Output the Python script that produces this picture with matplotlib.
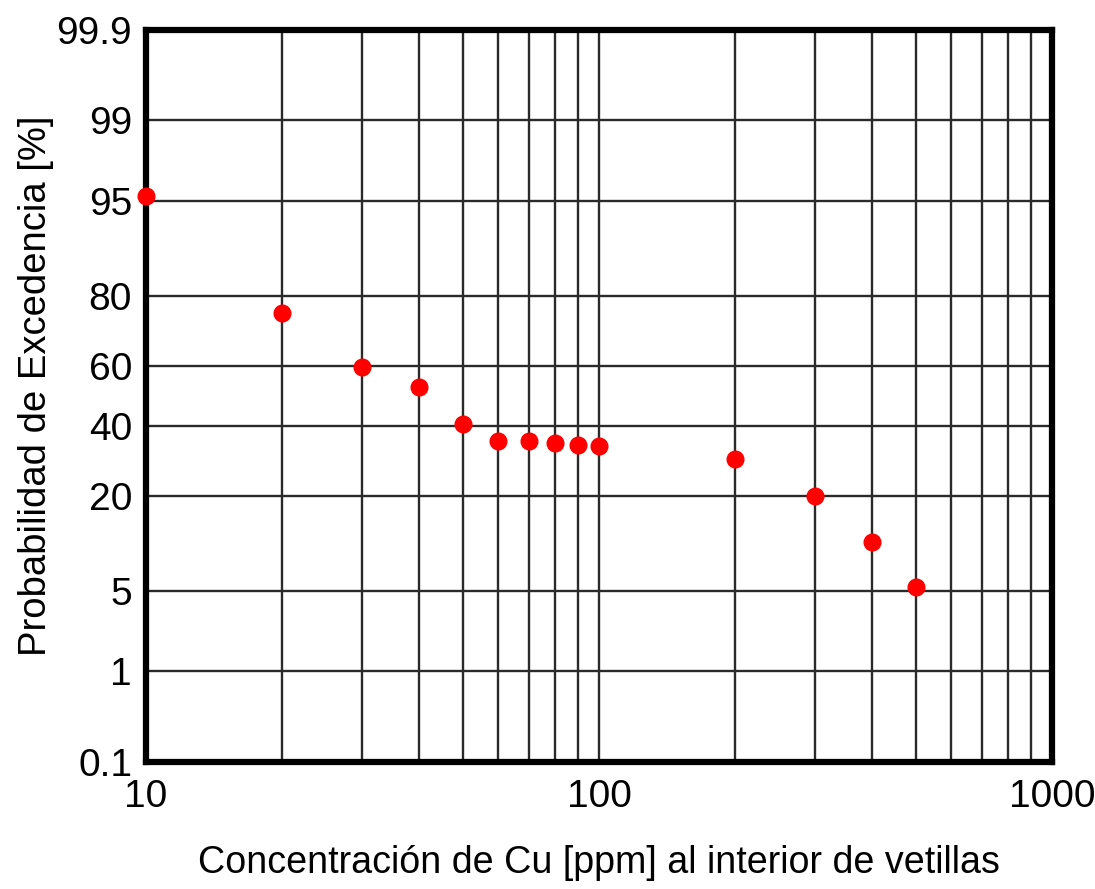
import numpy as np
import matplotlib
matplotlib.use("Agg")
import matplotlib.pyplot as plt
from matplotlib.ticker import FixedLocator, NullFormatter, FuncFormatter
from statistics import NormalDist

# Cu concentration [ppm] and exceedance probability [%]
cu_ppm = [10, 20, 30, 40, 50, 60, 70, 80, 90, 100, 200, 300, 400, 500]
prob_exc = [95.4, 75.8, 59.6, 52.9, 40.8, 35.1, 35.1, 34.5, 33.9, 33.6, 29.6, 20.0, 10.8, 5.3]

y_ticks = [0.1, 1, 5, 20, 40, 60, 80, 95, 99, 99.9]
y_tick_labels = ["0.1", "1", "5", "20", "40", "60", "80", "95", "99", "99.9"]
x_major = [10, 100, 1000]
x_minor = [20, 30, 40, 50, 60, 70, 80, 90, 200, 300, 400, 500, 600, 700, 800, 900]

nd = NormalDist()


def prob_to_z(p):
    p = np.clip(np.asarray(p, dtype=float), 1e-7, 100 - 1e-7)
    return np.array([nd.inv_cdf(v / 100.0) for v in p.ravel()]).reshape(p.shape)


def z_to_prob(z):
    z = np.asarray(z, dtype=float)
    return np.array([nd.cdf(v) * 100.0 for v in z.ravel()]).reshape(z.shape)


plt.rcParams["font.family"] = ["Liberation Sans", "DejaVu Sans"]

fig = plt.figure(figsize=(10.95, 8.89), dpi=100)
ax = fig.add_axes([0.1333, 0.1429, 0.8274, 0.8234])

ax.set_xscale("log")
ax.set_yscale("function", functions=(prob_to_z, z_to_prob))
ax.set_xlim(10, 1000)
ax.set_ylim(0.1, 99.9)

ax.xaxis.set_major_locator(FixedLocator(x_major))
ax.xaxis.set_minor_locator(FixedLocator(x_minor))
ax.xaxis.set_major_formatter(FuncFormatter(lambda v, pos: f"{v:g}"))
ax.xaxis.set_minor_formatter(NullFormatter())
ax.yaxis.set_major_locator(FixedLocator(y_ticks))
ax.yaxis.set_minor_locator(FixedLocator([]))
ax.set_yticklabels(y_tick_labels)

ax.grid(True, which="both", color="#2a2a2a", linewidth=1.7)
ax.set_axisbelow(True)
ax.tick_params(which="both", length=0, labelsize=28, colors="black")
ax.tick_params(axis="x", pad=12)
ax.tick_params(axis="y", pad=10)

for sp in ax.spines.values():
    sp.set_linewidth(4.5)
    sp.set_color("black")

ax.plot(cu_ppm, prob_exc, "o", color="#ff0000", markersize=12, clip_on=False, zorder=5)

ax.set_xlabel("Concentración de Cu [ppm] al interior de vetillas", fontsize=27.1, labelpad=22)
ax.set_ylabel("Probabilidad de Excedencia [%]", fontsize=27.5, labelpad=1.5)
ax.yaxis.label.set_y(0.514)

fig.savefig("out.png", dpi=100)
